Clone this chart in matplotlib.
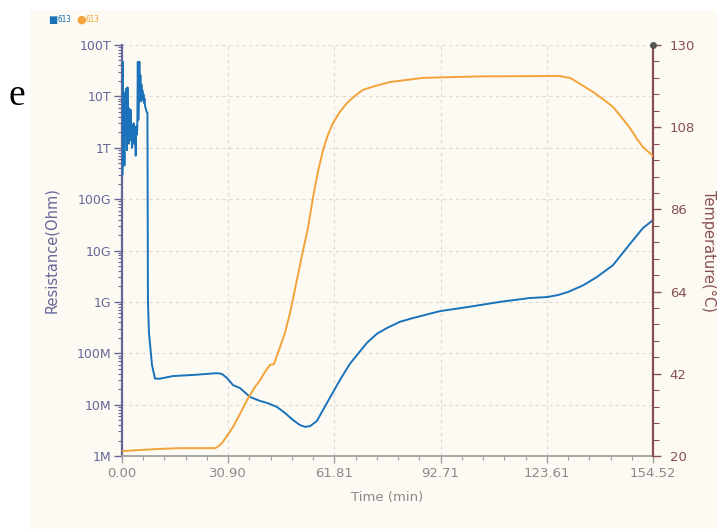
import numpy as np
import matplotlib
matplotlib.use('Agg')
import matplotlib.pyplot as plt
from matplotlib.ticker import FixedLocator, FixedFormatter, LogLocator, NullFormatter, AutoMinorLocator
from matplotlib.patches import Rectangle

# Resistance (blue) - noisy start, then drop and slow recovery
t_res = [0.00, 0.10, 0.25, 0.40, 0.55, 0.70, 0.85, 1.00, 1.15, 1.30, 1.45, 1.60, 1.75, 1.90,
         2.05, 2.20, 2.35, 2.50, 2.65, 2.80, 2.95, 3.10, 3.25, 3.40, 3.55, 3.70, 3.85, 4.00,
         4.15, 4.30, 4.45, 4.60, 4.75, 4.90, 5.05, 5.20, 5.35, 5.50, 5.65, 5.80, 5.95, 6.10,
         6.25, 6.40, 6.55, 6.70, 6.85, 7.00, 7.15, 7.40,
         7.55, 7.85, 8.73, 9.60, 11.06, 14.84, 21.24, 27.64, 29.1, 30.56, 32.3, 34.34, 37.25,
         40.16, 42.2, 45.1, 47.4, 49.8, 51.8, 53.25, 54.7, 56.7, 59.65, 63.4, 66.3, 69.3,
         71.3, 74.2, 77.1, 80.9, 84.7, 92.5, 100.4, 110.0, 118.7, 123.7, 126.9, 129.8,
         134.2, 138.2, 142.9, 147.8, 151.6, 154.5]
res = [4.7e13, 3.0e11, 4.7e13, 6.0e11, 1.2e13, 4.5e11, 9.0e12, 2.5e12, 1.4e13, 3.5e12,
       9.0e11, 1.5e13, 2.2e12, 6.0e12, 1.2e12, 4.0e12, 1.6e12, 5.5e12, 1.4e12, 2.8e12,
       1.0e12, 2.2e12, 1.3e12, 3.0e12, 1.2e12, 2.0e12, 1.5e12, 7.0e11, 2.6e12, 1.8e12,
       2.4e12, 4.7e13, 3.5e12, 9.0e12, 4.7e13, 1.1e13, 2.6e13, 8.0e12, 1.7e13, 1.0e13,
       1.3e13, 8.5e12, 1.1e13, 7.5e12, 9.0e12, 6.5e12, 6.0e12, 5.5e12, 5.0e12, 4.8e12,
       1.0e9, 2.5e8, 5.9e7, 3.2e7, 3.2e7, 3.6e7, 3.8e7, 4.1e7, 3.95e7, 3.3e7, 2.4e7, 2.1e7,
       1.41e7, 1.18e7, 1.08e7, 9.0e6, 6.9e6, 5.0e6, 4.0e6, 3.7e6, 3.8e6, 4.8e6, 1.08e7,
       3.0e7, 6.2e7, 1.1e8, 1.6e8, 2.4e8, 3.1e8, 4.1e8, 4.85e8, 6.6e8, 7.9e8, 1.0e9,
       1.19e9, 1.24e9, 1.36e9, 1.56e9, 2.1e9, 3.05e9, 5.2e9, 1.34e10, 2.74e10, 3.9e10]

# Temperature (orange)
t_temp = [0.0, 5.24, 11.06, 16.9, 27.1, 28.2, 29.1, 30.6, 32.3, 34.3, 36.4, 38.7, 40.2,
          41.6, 43.1, 44.2, 46.0, 47.4, 48.9, 50.9, 52.7, 54.1, 55.6, 57.0, 58.5, 59.9,
          61.4, 63.4, 65.5, 67.8, 70.1, 73.6, 78.0, 87.6, 95.4, 104.2, 127.5, 128.9, 130.4,
          133.3, 137.1, 140.0, 142.9, 145.5, 147.8, 149.9, 151.6, 154.5]
temp = [21.3, 21.6, 21.9, 22.1, 22.1, 22.7, 23.5, 25.4, 27.8, 31.2, 35.0, 38.5, 40.3,
        42.5, 44.4, 44.6, 49.2, 52.9, 58.3, 67.1, 75.1, 81.0, 89.3, 96.0, 101.9, 105.9,
        109.1, 112.1, 114.5, 116.4, 118.0, 119.0, 120.1, 121.2, 121.4, 121.6, 121.7, 121.4,
        121.2, 119.6, 117.4, 115.5, 113.4, 110.5, 107.8, 104.8, 102.7, 100.3]

t_max = 154.517
res_ticks = [1e6, 1e7, 1e8, 1e9, 1e10, 1e11, 1e12, 1e13, 1e14]
res_labels = ['1M', '10M', '100M', '1G', '10G', '100G', '1T', '10T', '100T']
temp_ticks = [20, 42, 64, 86, 108, 130]

blue = '#1a72bb'
orange = '#f2a33a'
left_col = '#66669a'
right_col = '#875050'
grey = '#8a8a8a'

fig = plt.figure(figsize=(7.17, 5.29), dpi=100)
fig.patch.set_facecolor('white')
panel = Rectangle((30 / 717, 0), 1, 1 - 10 / 529, transform=fig.transFigure,
                  facecolor='#fcfaf2', edgecolor='none', zorder=-10)
fig.add_artist(panel)

ax = fig.add_axes([122 / 717, 1 - 456 / 529, 531 / 717, 411 / 529])
ax.set_facecolor('none')
ax.plot(t_res, res, color=blue, linewidth=1.4, zorder=3)
ax.set_yscale('log')
ax.set_ylim(1e6, 1e14)
ax.set_xlim(0, t_max)
ax.yaxis.set_major_locator(FixedLocator(res_ticks))
ax.yaxis.set_major_formatter(FixedFormatter(res_labels))
ax.yaxis.set_minor_locator(LogLocator(base=10, subs=np.arange(2, 10)))
ax.yaxis.set_minor_formatter(NullFormatter())

xt = np.linspace(0, t_max, 6)
ax.set_xticks(xt)
ax.set_xticklabels(['%.2f' % v for v in xt])
ax.xaxis.set_minor_locator(AutoMinorLocator(5))

ax.grid(which='major', color='#dedad6', linestyle=(0, (3, 3)), linewidth=0.8)

for s in ['top', 'right']:
    ax.spines[s].set_visible(False)
ax.spines['left'].set_color(left_col)
ax.spines['left'].set_linewidth(1.6)
ax.spines['bottom'].set_color('#a0a0a0')
ax.spines['bottom'].set_linewidth(1.3)

ax.tick_params(axis='y', which='major', colors=left_col, labelsize=9, length=6, width=1, pad=2)
ax.tick_params(axis='y', which='minor', colors=left_col, length=3, width=0.8)
ax.tick_params(axis='x', which='major', colors='#a0a0a0', labelcolor=grey, labelsize=9.5,
               length=5, width=1, pad=3)
ax.tick_params(axis='x', which='minor', colors='#a0a0a0', length=3, width=0.8)

ax.set_xlabel('Time (min)', color=grey, fontsize=9.5, labelpad=8)
ax.set_ylabel('Resistance(Ohm)', color=left_col, fontsize=10.5, labelpad=12)

ax2 = ax.twinx()
ax2.set_facecolor('none')
ax2.plot(t_temp, temp, color=orange, linewidth=1.4, zorder=3)
ax2.set_ylim(20, 130)
ax2.set_yticks(temp_ticks)
ax2.yaxis.set_minor_locator(AutoMinorLocator(5))
for s in ['top', 'left', 'bottom']:
    ax2.spines[s].set_visible(False)
ax2.spines['right'].set_color(right_col)
ax2.spines['right'].set_linewidth(1.6)
ax2.tick_params(axis='y', which='major', colors=right_col, labelsize=9.5, length=6, width=1, pad=6)
ax2.tick_params(axis='y', which='minor', colors=right_col, length=4, width=0.8)
ax2.set_ylabel('Temperature(°C)', color=right_col, fontsize=10.5, rotation=-90, labelpad=15)
ax2.plot([1], [1], marker='o', markersize=4, color='#555555', transform=ax2.transAxes,
         clip_on=False, zorder=5)

# legend-like labels at top left
fig.text(48 / 717, 1 - 20 / 529, '■', color=blue, fontsize=7, va='center')
fig.text(58 / 717, 1 - 20 / 529, '613', color=blue, fontsize=5.5, va='center',
         family='DejaVu Sans Mono')
fig.text(76 / 717, 1 - 20 / 529, '●', color=orange, fontsize=8, va='center')
fig.text(86 / 717, 1 - 20 / 529, '613', color=orange, fontsize=5.5, va='center',
         family='DejaVu Sans Mono')

fig.text(9 / 717, 1 - 96 / 529, 'e', fontsize=27, va='center', family='Liberation Serif',
         color='black')

fig.savefig('out.png', dpi=100)
